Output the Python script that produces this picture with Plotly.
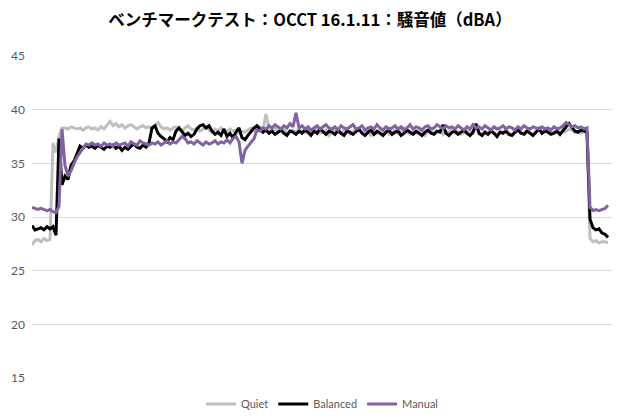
import plotly.graph_objects as go

title_text = "ベンチマークテスト：OCCT 16.1.11：騒音値（dBA）"
series_names = ["Quiet", "Balanced", "Manual"]
y_ticks = [15, 20, 25, 30, 35, 40, 45]

quiet = [
    27.4, 27.8, 27.9, 27.7, 28.0, 27.8, 27.9, 36.9, 36.0, 37.5,
    38.3, 38.3, 38.2, 38.4, 38.3, 38.2, 38.3, 38.1, 38.3, 38.4,
    38.2, 38.3, 38.1, 38.4, 38.2, 38.6, 38.9, 38.5, 38.7, 38.4,
    38.6, 38.3, 38.5, 38.6, 38.4, 38.2, 38.4, 38.5, 38.3, 38.4,
    38.2, 38.5, 38.8, 38.4, 38.2, 38.3, 38.1, 38.3, 38.4, 38.2,
    38.0, 38.3, 38.5, 38.2, 38.1, 38.3, 38.0, 38.2, 38.4, 38.1,
    37.9, 38.2, 38.0, 38.3, 38.1, 37.9, 38.2, 38.0, 38.1, 37.8,
    38.0, 37.9, 38.1, 38.3, 38.0, 38.2, 38.4, 38.1, 39.6, 38.2,
    38.0, 38.3, 37.9, 38.1, 38.2, 37.8, 38.0, 38.1, 37.9, 38.2,
    38.0, 37.9, 38.1, 37.7, 38.0, 38.2, 37.8, 37.9, 38.1, 37.6,
    38.0, 38.2, 37.9, 37.8, 38.1, 38.0, 37.7, 37.9, 38.2, 38.0,
    37.8, 38.1, 37.9, 37.6, 38.0, 37.8, 38.2, 37.9, 38.0, 37.7,
    37.9, 38.1, 37.8, 38.0, 38.3, 37.9, 37.7, 38.0, 37.8, 38.1,
    37.9, 37.6, 38.0, 38.2, 37.8, 37.9, 38.1, 37.7, 38.0, 37.9,
    38.2, 37.8, 38.0, 37.7, 37.9, 38.1, 38.0, 37.8, 38.5, 37.9,
    37.7, 38.0, 37.8, 38.1, 37.9, 37.6, 38.0, 37.9, 38.1, 37.8,
    37.7, 38.0, 38.2, 37.9, 37.8, 38.1, 37.9, 37.7, 38.0, 38.3,
    37.9, 38.1, 38.0, 37.8, 37.9, 38.1, 37.8, 37.9, 38.0, 38.2,
    38.1, 37.9, 38.0, 37.8, 38.0, 37.9, 28.0, 27.7, 27.8, 27.6,
    27.7, 27.7, 27.6,
]

balanced = [
    29.2, 28.8, 28.9, 29.0, 28.8, 29.1, 28.9, 29.1, 28.3, 37.3,
    33.0, 33.8, 33.5, 34.8, 35.2, 36.0, 36.6, 36.4, 36.7, 36.5,
    36.6, 36.4, 36.7, 36.5, 36.3, 36.6, 36.5, 36.7, 36.4, 36.6,
    36.2, 36.5, 36.3, 36.6, 36.8, 36.5, 36.4, 36.7, 36.5, 36.9,
    38.3, 38.5, 37.8, 37.5, 37.3, 37.0, 37.4, 37.2, 38.0, 38.3,
    37.9, 37.6, 37.8, 37.5, 37.7, 38.2, 38.5, 38.6, 38.3, 38.5,
    38.0, 37.7, 37.9, 37.6, 38.2, 37.5, 37.8, 37.4, 37.9, 38.3,
    37.4, 37.2, 37.6, 38.0, 38.3, 38.5, 38.2, 37.9, 38.1, 37.8,
    38.0, 37.7, 37.9, 38.1, 37.8, 37.6, 38.0, 37.9, 37.7, 38.0,
    37.8, 38.1, 37.9, 37.6, 38.0, 37.8, 38.2, 37.9, 37.7, 38.0,
    37.9, 37.7, 38.1, 37.8, 37.6, 38.0, 37.9, 37.7, 38.0, 38.2,
    37.8, 37.6, 37.9, 38.1, 37.7, 38.0, 37.8, 37.6, 37.9, 38.1,
    37.7, 37.9, 38.0, 37.6, 37.8, 38.1, 37.9, 37.7, 38.0, 37.8,
    37.6, 37.9, 38.1, 37.8, 37.7, 38.0, 37.9, 38.6, 37.8, 37.6,
    37.9, 38.0, 37.7, 37.9, 38.1, 37.8, 37.6, 37.9, 38.7, 37.8,
    37.6, 37.9, 37.7, 38.0, 37.8, 37.5, 37.9, 37.8, 38.0, 37.7,
    37.6, 37.9, 38.1, 37.8, 37.7, 38.0, 37.8, 37.6, 37.9, 38.2,
    37.8, 38.0, 37.9, 37.7, 37.8, 38.0, 37.7, 38.1, 38.4, 38.7,
    38.3, 38.0, 37.9, 38.1, 38.0, 37.9, 29.8, 29.0, 28.8, 28.9,
    28.5, 28.4, 28.1,
]

manual = [
    30.9, 30.8, 30.7, 30.8, 30.7, 30.6, 30.7, 30.5, 30.4, 31.0,
    38.2, 34.8, 33.8, 34.3, 35.0, 35.6, 36.0, 36.4, 36.8, 36.7,
    36.9, 36.7, 36.8, 36.6, 36.9, 36.7, 36.8, 36.6, 36.9, 36.7,
    36.8, 36.9, 36.6, 37.0, 36.8, 36.7, 37.1, 36.9, 36.8, 36.7,
    36.9, 36.8, 37.0, 36.7, 36.9, 37.1, 36.8, 37.0, 36.9, 37.2,
    37.5, 37.3, 36.9, 37.0, 36.8, 37.1, 36.9, 36.7, 37.0, 36.8,
    36.9, 37.1, 36.8, 37.0, 36.9, 37.2, 36.9, 37.3, 37.5, 37.0,
    35.0, 36.2, 36.6, 36.9, 37.3, 38.1, 38.0, 38.3, 38.2, 38.5,
    38.3, 38.6, 38.4, 38.2, 38.5, 38.3, 38.7, 38.4, 39.7, 38.3,
    38.5, 38.2, 38.4, 38.1, 38.3, 38.5, 38.2, 38.4, 38.6, 38.3,
    38.2, 38.4, 38.1, 38.5, 38.3, 38.2, 38.4, 38.6, 38.2, 38.3,
    38.5, 38.1, 38.3, 38.4, 38.2, 38.6, 38.3, 38.1, 38.4, 38.2,
    38.3, 38.5, 38.2, 38.4, 38.1, 38.3, 38.6, 38.2, 38.4, 38.3,
    38.1, 38.4, 38.5, 38.2, 38.3, 38.6, 38.4, 38.2, 38.5, 38.3,
    38.4, 38.2, 38.5, 38.3, 38.1, 38.4, 38.2, 38.6, 38.3, 38.4,
    38.2, 38.5, 38.3, 38.1, 38.4, 38.2, 38.3, 38.5, 38.2, 38.4,
    38.3, 38.1, 38.4, 38.2, 38.5, 38.3, 38.2, 38.4, 38.3, 38.2,
    38.4, 38.2, 38.3, 38.1, 38.4, 38.2, 38.3, 38.5, 38.8, 38.6,
    38.4, 38.5, 38.3, 38.4, 38.2, 38.3, 30.9, 30.6, 30.7, 30.6,
    30.7, 30.8, 31.1,
]

colors = ["#bfbfbf", "#000000", "#8064a2"]
data = [quiet, balanced, manual]

fig = go.Figure()
for name, vals, col in zip(series_names, data, colors):
    fig.add_trace(go.Scatter(
        x=list(range(len(vals))), y=vals, name=name, mode="lines",
        line=dict(color=col, width=3),
    ))

n = max(len(v) for v in data)
fig.update_layout(
    width=620, height=420,
    margin=dict(l=32, r=8, t=56, b=42, autoexpand=False),
    paper_bgcolor="white", plot_bgcolor="white",
    title=dict(text="<b>" + title_text + "</b>", x=0.5, xanchor="center",
               y=1 - 20 / 420, yanchor="middle",
               font=dict(family="Noto Sans CJK JP", size=16.5, color="#000000")),
    xaxis=dict(range=[0, n - 1 + 1.33], showticklabels=False, showgrid=False,
               zeroline=False, showline=False, ticks=""),
    yaxis=dict(range=[15, 45], tickvals=y_ticks, showgrid=True,
               gridcolor="#d9d9d9", gridwidth=1, zeroline=False,
               showline=False, ticks="", ticklabelstandoff=6,
               tickfont=dict(family="Lato", size=12, color="#595959")),
    legend=dict(orientation="h", x=0.5, xanchor="center", y=-26 / 322,
                yanchor="middle", font=dict(family="Lato", size=11, color="#595959"),
                itemwidth=30, tracegroupgap=0),
    showlegend=True,
)

fig.write_html("out.html")
